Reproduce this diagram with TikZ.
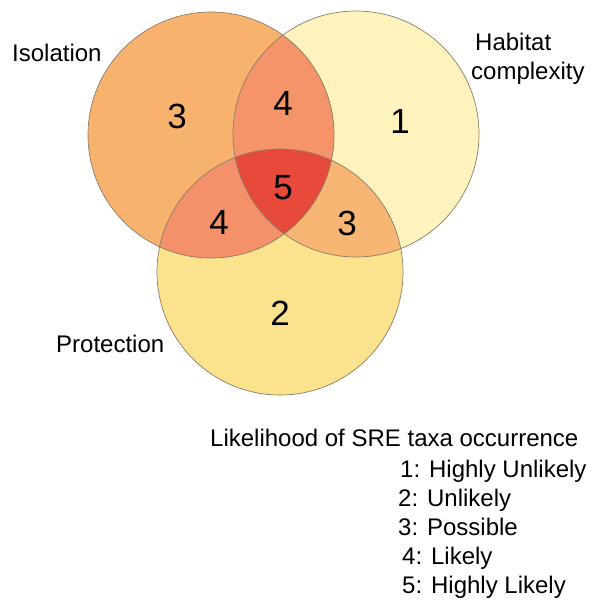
\documentclass[tikz,border=0pt]{standalone}
\usepackage{fontspec}
\setmainfont{Liberation Sans}
\definecolor{isocol}{RGB}{247,178,110}
\definecolor{habcol}{RGB}{254,243,188}
\definecolor{protcol}{RGB}{251,227,142}
\definecolor{ihcol}{RGB}{245,147,107}
\definecolor{ipcol}{RGB}{244,144,106}
\definecolor{hpcol}{RGB}{247,182,115}
\definecolor{allcol}{RGB}{231,73,58}
\definecolor{rimcol}{RGB}{140,125,106}
\begin{document}
\begin{tikzpicture}[x=1pt, y=-1pt, line join=round, line cap=round,
  lbl/.style={anchor=base west, inner sep=0pt, font=\fontsize{24}{29}\selectfont},
  num/.style={inner sep=0pt, font=\fontsize{35}{42}\selectfont}]
\useasboundingbox (0,0) rectangle (590,600);
\path
(211,135) coordinate (I)
(356,134) coordinate (H)
(280,272) coordinate (P);
\def\rr{123pt}
% single sets
\fill[habcol] (H) circle (\rr);
\fill[protcol] (P) circle (\rr);
\fill[isocol] (I) circle (\rr);
% pairwise overlaps
\begin{scope}
\clip (I) circle (\rr);
\fill[ihcol] (H) circle (\rr);
\fill[ipcol] (P) circle (\rr);
\end{scope}
\begin{scope}
\clip (H) circle (\rr);
\fill[hpcol] (P) circle (\rr);
\end{scope}
% all three
\begin{scope}
\clip (I) circle (\rr);
\clip (H) circle (\rr);
\fill[allcol] (P) circle (\rr);
\end{scope}
\draw[rimcol, line width=0.7pt] (I) circle (\rr) (H) circle (\rr) (P) circle (\rr);
\foreach \x/\y/\t [count=\k] in {177/116/3, 283/103/4, 400/121/1, 283/188/5, 219/222/4, 347/223/3, 280/313/2}
  \node[num] (num\k) at (\x,\y) {\t};
\node[lbl] (isolation) at (12,61) {Isolation};
\node[lbl] (habitat) at (475,50) {Habitat};
\node[lbl] (complexity) at (471,79) {complexity};
\node[lbl] (protection) at (56,352) {Protection};
\node[lbl] (legtitle) at (210,446) {Likelihood of SRE taxa occurrence};
\foreach \t/\x [count=\k] in {1: Highly Unlikely/400, 2: Unlikely/398, 3: Possible/398, 4: Likely/402, 5: Highly Likely/402}
  \node[lbl] (leg\k) at (\x,{448+29*\k}) {\t};
\end{tikzpicture}
\end{document}
